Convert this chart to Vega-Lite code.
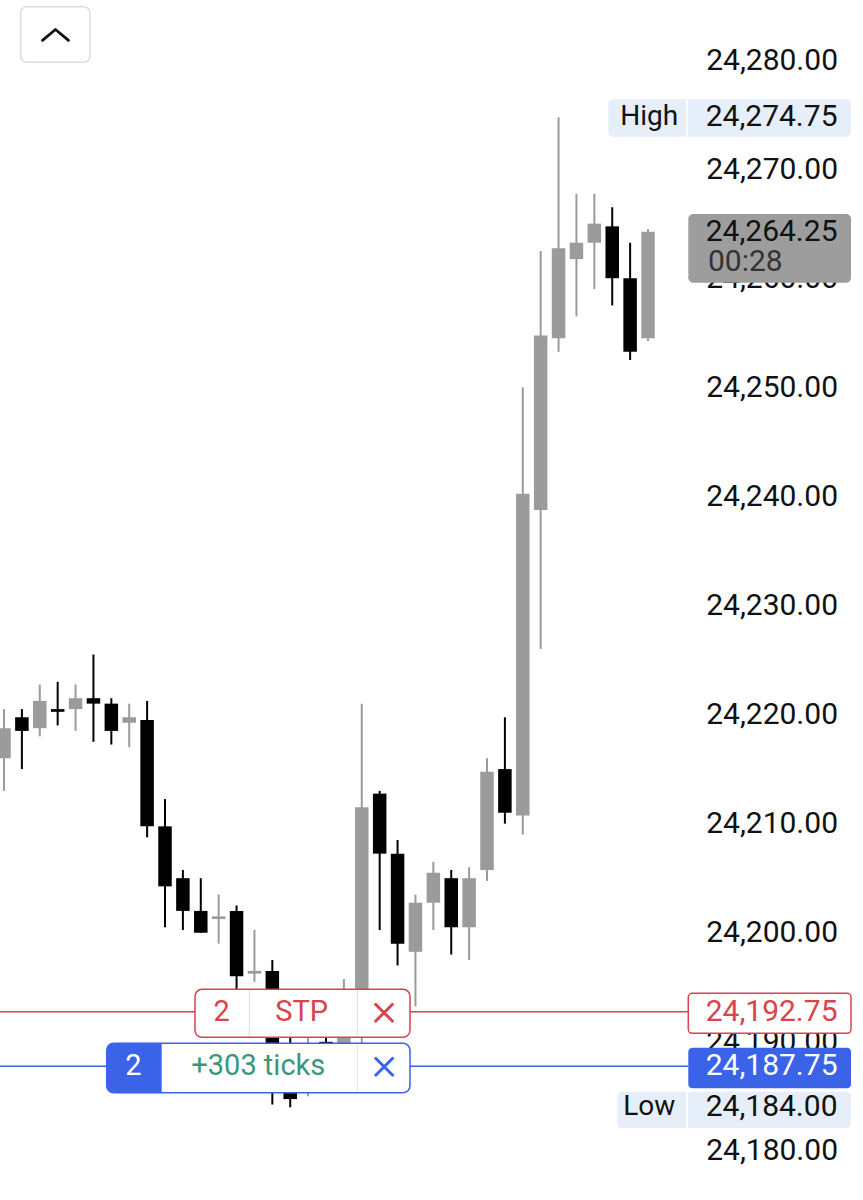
{
  "$schema": "https://vega.github.io/schema/vega-lite/v6.json",
  "width": 863,
  "height": 1200,
  "autosize": {"type": "none"},
  "padding": 0,
  "background": "white",
  "config": {"view": {"stroke": null}, "text": {"font": "Roboto"}},
  "datasets": {
    "candles": [
      {"i": 0, "open": 24216, "high": 24220.5, "low": 24213, "close": 24218.75},
      {"i": 1, "open": 24219.75, "high": 24220.5, "low": 24215, "close": 24218.5},
      {"i": 2, "open": 24218.75, "high": 24222.75, "low": 24218, "close": 24221.25},
      {"i": 3, "open": 24220.5, "high": 24223, "low": 24219, "close": 24220.25},
      {"i": 4, "open": 24220.5, "high": 24222.75, "low": 24218.5, "close": 24221.5},
      {"i": 5, "open": 24221.5, "high": 24225.5, "low": 24217.5, "close": 24221},
      {"i": 6, "open": 24221, "high": 24221.5, "low": 24217.25, "close": 24218.5},
      {"i": 7, "open": 24219.25, "high": 24221, "low": 24217, "close": 24219.75},
      {"i": 8, "open": 24219.5, "high": 24221.25, "low": 24208.75, "close": 24209.75},
      {"i": 9, "open": 24209.75, "high": 24212.25, "low": 24200.5, "close": 24204.25},
      {"i": 10, "open": 24205, "high": 24205.75, "low": 24200.25, "close": 24202},
      {"i": 11, "open": 24202, "high": 24205, "low": 24200, "close": 24200},
      {"i": 12, "open": 24201.25, "high": 24203.5, "low": 24199, "close": 24201.5},
      {"i": 13, "open": 24202, "high": 24202.5, "low": 24194.75, "close": 24196},
      {"i": 14, "open": 24196.25, "high": 24200.25, "low": 24195.5, "close": 24196.5},
      {"i": 15, "open": 24196.5, "high": 24197.5, "low": 24184.25, "close": 24187.5},
      {"i": 16, "open": 24187, "high": 24192, "low": 24184, "close": 24184.75},
      {"i": 17, "open": 24188.5, "high": 24192, "low": 24185, "close": 24189},
      {"i": 18, "open": 24190, "high": 24192.5, "low": 24187, "close": 24189},
      {"i": 19, "open": 24188.5, "high": 24195.75, "low": 24188, "close": 24191.5},
      {"i": 20, "open": 24192.5, "high": 24221, "low": 24188, "close": 24211.5},
      {"i": 21, "open": 24212.75, "high": 24213, "low": 24200.25, "close": 24207.25},
      {"i": 22, "open": 24207.25, "high": 24208.5, "low": 24197, "close": 24199},
      {"i": 23, "open": 24198.25, "high": 24203.5, "low": 24193.25, "close": 24202.75},
      {"i": 24, "open": 24202.75, "high": 24206.5, "low": 24200.25, "close": 24205.5},
      {"i": 25, "open": 24205, "high": 24205.75, "low": 24198, "close": 24200.5},
      {"i": 26, "open": 24200.5, "high": 24206, "low": 24197.5, "close": 24205},
      {"i": 27, "open": 24205.75, "high": 24216, "low": 24204.75, "close": 24214.75},
      {"i": 28, "open": 24215, "high": 24219.75, "low": 24210, "close": 24211},
      {"i": 29, "open": 24210.75, "high": 24250, "low": 24209, "close": 24240.25},
      {"i": 30, "open": 24238.75, "high": 24262.5, "low": 24226, "close": 24254.75},
      {"i": 31, "open": 24254.5, "high": 24274.75, "low": 24253.25, "close": 24262.75},
      {"i": 32, "open": 24261.75, "high": 24267.75, "low": 24256.5, "close": 24263.25},
      {"i": 33, "open": 24263.25, "high": 24267.75, "low": 24259, "close": 24265},
      {"i": 34, "open": 24264.75, "high": 24266.5, "low": 24257.5, "close": 24260},
      {"i": 35, "open": 24260, "high": 24263.25, "low": 24252.5, "close": 24253.25},
      {"i": 36, "open": 24254.5, "high": 24264.5, "low": 24254.25, "close": 24264.25}
    ],
    "levels": [
      {"kind": "High", "price": 24274.75},
      {"kind": "Low", "price": 24184},
      {"kind": "Last", "price": 24264.25, "timer": "00:28"},
      {"kind": "Stop", "price": 24192.75, "qty": 2, "tag": "STP"},
      {"kind": "Target", "price": 24187.75, "qty": 2, "tag": "+303 ticks"}
    ]
  },
  "layer": [
    {
      "data": {"name": "candles"},
      "mark": {"type": "rule", "strokeWidth": 2},
      "encoding": {
        "x": {"field": "i", "type": "quantitative", "scale": {"domain": [-0.2236, 48.018], "nice": false, "zero": false, "padding": 0}, "axis": null},
        "y": {"field": "low", "type": "quantitative", "title": null,
          "scale": {"domain": [24175.5, 24285.5], "nice": false, "zero": false, "padding": 0},
          "axis": {"orient": "right", "values": [24180, 24190, 24200, 24210, 24220, 24230, 24240, 24250, 24260, 24270, 24280],
            "format": ",.2f", "ticks": false, "tickSize": 0, "domain": false, "grid": false, "labelPadding": -25.5, "labelAlign": "right",
            "labelFont": "Roboto", "labelFontSize": 30, "labelColor": "#111111", "title": null, "zindex": 0,
            "labelOverlap": false, "labelBound": false, "labelFlush": false}},
        "y2": {"field": "high"},
        "color": {"condition": {"test": "datum.close < datum.open", "value": "#000000"}, "value": "#9b9b9b"}
      }
    },
    {
      "data": {"name": "candles"},
      "mark": {"type": "bar", "size": 13.5},
      "encoding": {
        "x": {"field": "i", "type": "quantitative", "axis": null},
        "y": {"field": "open", "type": "quantitative", "title": null},
        "y2": {"field": "close"},
        "color": {"condition": {"test": "datum.close < datum.open", "value": "#000000"}, "value": "#9b9b9b"}
      }
    },
    {
      "data": {"name": "levels"},
      "transform": [{"filter": "datum.kind == 'Stop'"}],
      "mark": {"type": "rule", "strokeWidth": 1.5, "color": "#d8434c"},
      "encoding": {
        "x": {"datum": -0.2236, "type": "quantitative", "axis": null},
        "x2": {"datum": 38.252},
        "y": {"field": "price", "type": "quantitative", "title": null}
      }
    },
    {
      "data": {"name": "levels"},
      "transform": [{"filter": "datum.kind == 'Target'"}],
      "mark": {"type": "rule", "strokeWidth": 1.5, "color": "#3a63e8"},
      "encoding": {
        "x": {"datum": -0.2236, "type": "quantitative", "axis": null},
        "x2": {"datum": 38.252},
        "y": {"field": "price", "type": "quantitative", "title": null}
      }
    },
    {
      "data": {"values": [{}]},
      "mark": {"type": "rect", "fill": "white", "stroke": "#d8434c", "strokeWidth": 1.5, "cornerRadius": 7},
      "encoding": {
        "x": {"datum": 10.677, "type": "quantitative", "axis": null}, "x2": {"datum": 22.695},
        "y": {"datum": 24194.81, "type": "quantitative", "title": null}, "y2": {"datum": 24190.41}
      }
    },
    {
      "data": {"values": [{}]},
      "mark": {"type": "rule", "strokeWidth": 1, "color": "#f1d3d5"},
      "encoding": {
        "x": {"datum": 13.712, "type": "quantitative", "axis": null},
        "y": {"datum": 24194.72, "type": "quantitative", "title": null}, "y2": {"datum": 24190.5}
      }
    },
    {
      "data": {"values": [{}]},
      "mark": {"type": "rule", "strokeWidth": 1, "color": "#f1d3d5"},
      "encoding": {
        "x": {"datum": 19.749, "type": "quantitative", "axis": null},
        "y": {"datum": 24194.72, "type": "quantitative", "title": null}, "y2": {"datum": 24190.5}
      }
    },
    {
      "data": {"values": [{}]},
      "mark": {"type": "rect", "fill": "white", "stroke": "#3a63e8", "strokeWidth": 1.5, "cornerRadius": 7},
      "encoding": {
        "x": {"datum": 5.741, "type": "quantitative", "axis": null}, "x2": {"datum": 22.695},
        "y": {"datum": 24189.86, "type": "quantitative", "title": null}, "y2": {"datum": 24185.33}
      }
    },
    {
      "data": {"values": [{}]},
      "mark": {"type": "rect", "fill": "#3a63e8", "cornerRadiusTopLeft": 7, "cornerRadiusBottomLeft": 7},
      "encoding": {
        "x": {"datum": 5.741, "type": "quantitative", "axis": null}, "x2": {"datum": 8.815},
        "y": {"datum": 24189.86, "type": "quantitative", "title": null}, "y2": {"datum": 24185.33}
      }
    },
    {
      "data": {"values": [{}]},
      "mark": {"type": "rule", "strokeWidth": 1, "color": "#dfe5f2"},
      "encoding": {
        "x": {"datum": 19.749, "type": "quantitative", "axis": null},
        "y": {"datum": 24189.78, "type": "quantitative", "title": null}, "y2": {"datum": 24185.41}
      }
    },
    {
      "data": {"name": "levels"},
      "transform": [{"filter": "datum.kind == 'Stop'"}],
      "mark": {"type": "text", "fontSize": 29, "color": "#d8434c", "align": "center", "baseline": "middle"},
      "encoding": {
        "x": {"datum": 12.169, "type": "quantitative", "axis": null},
        "y": {"field": "price", "type": "quantitative", "title": null},
        "text": {"field": "qty", "type": "nominal"}
      }
    },
    {
      "data": {"name": "levels"},
      "transform": [{"filter": "datum.kind == 'Stop'"}],
      "mark": {"type": "text", "fontSize": 29, "color": "#d8434c", "align": "center", "baseline": "middle"},
      "encoding": {
        "x": {"datum": 16.641, "type": "quantitative", "axis": null},
        "y": {"field": "price", "type": "quantitative", "title": null},
        "text": {"field": "tag", "type": "nominal"}
      }
    },
    {
      "data": {"name": "levels"},
      "transform": [{"filter": "datum.kind == 'Stop'"}],
      "mark": {"type": "text", "font": "Inter", "fontSize": 46, "fontWeight": 300, "color": "#d8434c", "align": "center", "baseline": "middle"},
      "encoding": {
        "x": {"datum": 21.242, "type": "quantitative", "axis": null},
        "y": {"field": "price", "type": "quantitative", "title": null},
        "text": {"value": "×"}
      }
    },
    {
      "data": {"name": "levels"},
      "transform": [{"filter": "datum.kind == 'Target'"}],
      "mark": {"type": "text", "fontSize": 29, "color": "white", "align": "center", "baseline": "middle"},
      "encoding": {
        "x": {"datum": 7.228, "type": "quantitative", "axis": null},
        "y": {"field": "price", "type": "quantitative", "title": null},
        "text": {"field": "qty", "type": "nominal"}
      }
    },
    {
      "data": {"name": "levels"},
      "transform": [{"filter": "datum.kind == 'Target'"}],
      "mark": {"type": "text", "fontSize": 29, "color": "#3b9778", "align": "center", "baseline": "middle"},
      "encoding": {
        "x": {"datum": 14.215, "type": "quantitative", "axis": null},
        "y": {"field": "price", "type": "quantitative", "title": null},
        "text": {"field": "tag", "type": "nominal"}
      }
    },
    {
      "data": {"name": "levels"},
      "transform": [{"filter": "datum.kind == 'Target'"}],
      "mark": {"type": "text", "font": "Inter", "fontSize": 46, "fontWeight": 300, "color": "#3a63e8", "align": "center", "baseline": "middle"},
      "encoding": {
        "x": {"datum": 21.242, "type": "quantitative", "axis": null},
        "y": {"field": "price", "type": "quantitative", "title": null},
        "text": {"value": "×"}
      }
    },
    {
      "data": {"values": [{}]},
      "mark": {"type": "rect", "fill": "white", "stroke": "#d8434c", "strokeWidth": 1.5, "cornerRadius": 4},
      "encoding": {
        "x": {"datum": 38.252, "type": "quantitative", "axis": null}, "x2": {"datum": 47.348},
        "y": {"datum": 24194.45, "type": "quantitative", "title": null}, "y2": {"datum": 24190.78}
      }
    },
    {
      "data": {"values": [{}]},
      "mark": {"type": "rect", "fill": "#3a63e8", "cornerRadius": 4},
      "encoding": {
        "x": {"datum": 38.252, "type": "quantitative", "axis": null}, "x2": {"datum": 47.348},
        "y": {"datum": 24189.46, "type": "quantitative", "title": null}, "y2": {"datum": 24185.74}
      }
    },
    {
      "data": {"values": [{}]},
      "mark": {"type": "rect", "fill": "#e6eefa", "cornerRadiusTopLeft": 5, "cornerRadiusBottomLeft": 5},
      "encoding": {
        "x": {"datum": 33.78, "type": "quantitative", "axis": null}, "x2": {"datum": 38.107},
        "y": {"datum": 24276.4, "type": "quantitative", "title": null}, "y2": {"datum": 24272.97}
      }
    },
    {
      "data": {"values": [{}]},
      "mark": {"type": "rect", "fill": "#e6eefa", "cornerRadiusTopRight": 5, "cornerRadiusBottomRight": 5},
      "encoding": {
        "x": {"datum": 38.219, "type": "quantitative", "axis": null}, "x2": {"datum": 47.348},
        "y": {"datum": 24276.4, "type": "quantitative", "title": null}, "y2": {"datum": 24272.97}
      }
    },
    {
      "data": {"values": [{}]},
      "mark": {"type": "rect", "fill": "#e6eefa", "cornerRadiusTopLeft": 5, "cornerRadiusBottomLeft": 5},
      "encoding": {
        "x": {"datum": 34.283, "type": "quantitative", "axis": null}, "x2": {"datum": 38.124},
        "y": {"datum": 24185.43, "type": "quantitative", "title": null}, "y2": {"datum": 24182.07}
      }
    },
    {
      "data": {"values": [{}]},
      "mark": {"type": "rect", "fill": "#e6eefa", "cornerRadiusTopRight": 5, "cornerRadiusBottomRight": 5},
      "encoding": {
        "x": {"datum": 38.219, "type": "quantitative", "axis": null}, "x2": {"datum": 47.348},
        "y": {"datum": 24185.43, "type": "quantitative", "title": null}, "y2": {"datum": 24182.07}
      }
    },
    {
      "data": {"values": [{}]},
      "mark": {"type": "rect", "fill": "#9d9d9d", "cornerRadius": 5},
      "encoding": {
        "x": {"datum": 38.252, "type": "quantitative", "axis": null}, "x2": {"datum": 47.348},
        "y": {"datum": 24265.88, "type": "quantitative", "title": null}, "y2": {"datum": 24259.59}
      }
    },
    {
      "data": {"name": "levels"},
      "transform": [{"filter": "datum.kind == 'High' || datum.kind == 'Low'"}],
      "mark": {"type": "text", "fontSize": 28, "color": "#111111", "align": "center", "baseline": "middle"},
      "encoding": {
        "x": {"datum": 36.07, "type": "quantitative", "axis": null},
        "y": {"field": "price", "type": "quantitative", "title": null},
        "text": {"field": "kind", "type": "nominal"}
      }
    },
    {
      "data": {"name": "levels"},
      "mark": {"type": "text", "fontSize": 30, "align": "right", "baseline": "middle"},
      "encoding": {
        "x": {"datum": 46.593, "type": "quantitative", "axis": null},
        "y": {"field": "price", "type": "quantitative", "title": null},
        "text": {"field": "price", "type": "quantitative", "format": ",.2f"},
        "color": {"field": "kind", "type": "nominal", "legend": null,
          "scale": {"domain": ["High", "Low", "Last", "Stop", "Target"], "range": ["#111111", "#111111", "#111111", "#d8434c", "#ffffff"]}}
      }
    },
    {
      "data": {"name": "levels"},
      "transform": [{"filter": "datum.kind == 'Last'"}],
      "mark": {"type": "text", "fontSize": 30, "color": "#333333", "align": "left", "baseline": "middle"},
      "encoding": {
        "x": {"datum": 39.354, "type": "quantitative", "axis": null},
        "y": {"datum": 24261.44, "type": "quantitative", "title": null},
        "text": {"field": "timer", "type": "nominal"}
      }
    },
    {
      "data": {"values": [{}]},
      "mark": {"type": "rect", "fill": "white", "stroke": "#dcdcdc", "strokeWidth": 1.5, "cornerRadius": 6},
      "encoding": {
        "x": {"datum": 0.934, "type": "quantitative", "axis": null}, "x2": {"datum": 4.807},
        "y": {"datum": 24284.886, "type": "quantitative", "title": null}, "y2": {"datum": 24279.789}
      }
    },
    {
      "data": {"values": [{}]},
      "mark": {"type": "point", "shape": "M-1,0.42L0,-0.42L1,0.42", "filled": false, "size": 676, "stroke": "#111111", "strokeWidth": 2.8, "strokeCap": "round", "strokeJoin": "round", "opacity": 1},
      "encoding": {
        "x": {"datum": 2.878, "type": "quantitative", "axis": null},
        "y": {"datum": 24282.3, "type": "quantitative", "title": null}
      }
    }
  ]
}
